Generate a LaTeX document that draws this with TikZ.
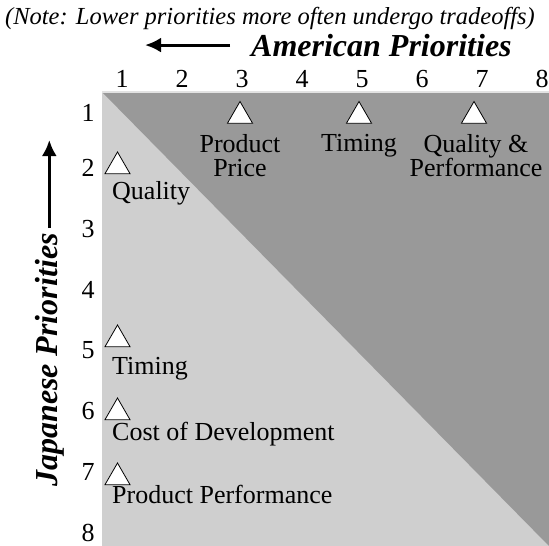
\documentclass[tikz,border=0pt]{standalone}
\usepackage{fontspec}
\setmainfont{Liberation Serif}
\usetikzlibrary{arrows.meta,positioning,shapes.geometric}
\definecolor{paneldark}{HTML}{999999}
\definecolor{panellight}{HTML}{CFCFCF}
\definecolor{paneledge}{HTML}{E2E2E2}
\tikzset{
  tri/.style={regular polygon, regular polygon sides=3, draw=black, fill=white,
              line width=0.8pt, minimum size=29pt, inner sep=0pt},
  lbl/.style={font=\fontsize{26}{24}\selectfont, inner sep=0pt, align=center},
  num/.style={font=\fontsize{26}{26}\selectfont, inner sep=0pt},
  axlbl/.style={font=\fontsize{32}{32}\selectfont\bfseries\itshape, inner sep=0pt},
  axarr/.style={-{Latex[length=16pt,width=15pt]}, line width=3pt}}

\begin{document}
\begin{tikzpicture}[x=1pt,y=1pt]
  \useasboundingbox (0,0) rectangle (549,-546);
  % priority square
  \coordinate (sqnw) at (102,-92);
  \coordinate (sqse) at (549,-546);
  \fill[panellight] (sqnw) rectangle (sqse);
  \fill[paneldark] (sqnw) -- (sqnw -| sqse) -- (sqse) -- cycle;
  \draw[paneledge, line width=1.2pt] (sqnw) -- (sqnw -| sqse);
  % headings
  \node[font=\fontsize{24.5}{24.5}\selectfont\itshape, inner sep=0pt, anchor=base] (note)
    at (270,-24) {(Note: Lower priorities more often undergo tradeoffs)};
  \node[axlbl, anchor=base west] (amer) at (251,-56) {American Priorities};
  \node[axlbl, rotate=90, anchor=base] (jap) at (57,-360) {Japanese Priorities};
  \coordinate (amertip) at (145,-45);
  \coordinate (japtip) at (52,-140);
  \draw[axarr, shorten <=21pt] (amer.west) -- (amer.west -| amertip);
  \draw[axarr, shorten <=5pt] (jap.east) -- (jap.east |- japtip);
  % column and row numbers
  \foreach \n in {1,...,8}
    \node[num, anchor=base] (c\n) at ({122+60*(\n-1)},-87) {\n};
  \foreach \n/\y in {1/121,2/176,3/237,4/298,5/358,6/419,7/480,8/541}
    \node[num, anchor=base] (r\n) at (88,-\y) {\n};
  % American ranking
  \node[tri] (aprice) at (240,-116) {};
  \node[tri] (atime) at (359,-116) {};
  \node[tri] (aqual) at (474,-116) {};
  \node[lbl, below=10.5pt of aprice.south] (apricel) {Product\\Price};
  \node[lbl, below=10.5pt of atime.south] (atimel) {Timing};
  \node[lbl, below=10.5pt of aqual.south, xshift=2pt] (aquall) {Quality \&\\Performance};
  % Japanese ranking
  \node[tri] (jqual) at (117.5,-166.5) {};
  \node[tri] (jtime) at (117.5,-339.5) {};
  \node[tri] (jcost) at (117.5,-412.5) {};
  \node[tri] (jperf) at (117.5,-477.5) {};
  \node[lbl, below right=7pt and -5.5pt of jqual.south] (jquall) {Quality};
  \node[lbl, below right=9.5pt and -5.5pt of jtime.south] (jtimel) {Timing};
  \node[lbl, below right=2pt and -5.5pt of jcost.south] (jcostl) {Cost of Development};
  \node[lbl, below right=0pt and -5.5pt of jperf.south] (jperfl) {Product Performance};
\end{tikzpicture}
\end{document}
